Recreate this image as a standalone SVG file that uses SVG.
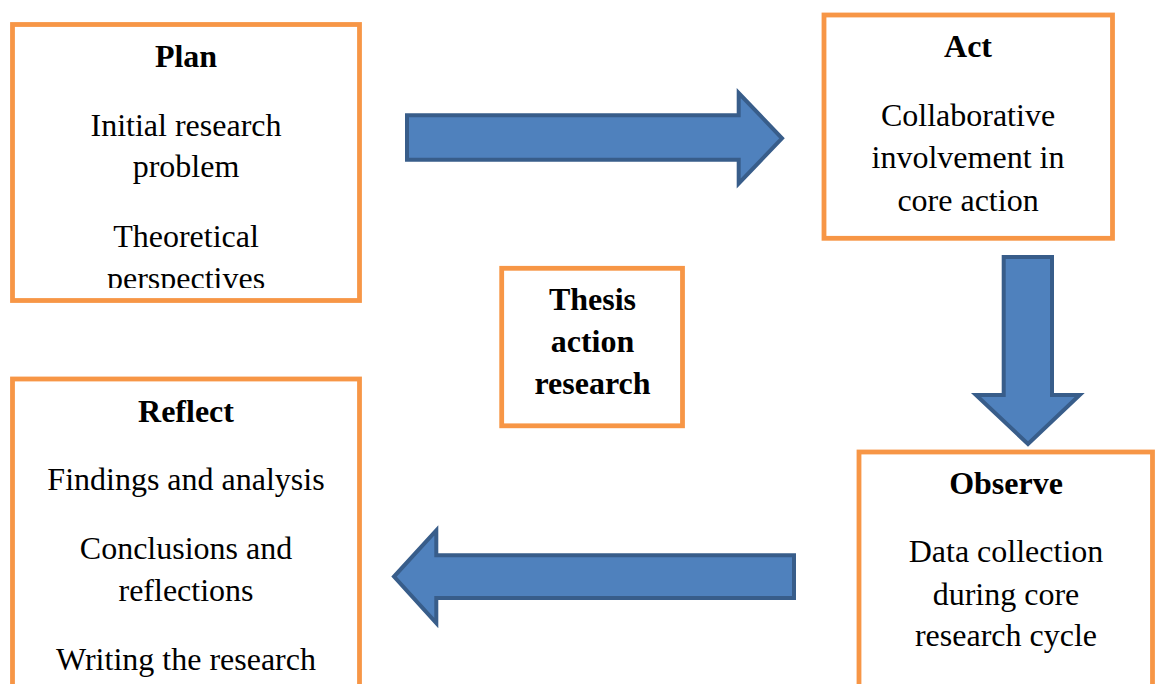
<svg xmlns="http://www.w3.org/2000/svg" width="1157" height="684" viewBox="0 0 1157 684">
<style>
.box{fill:#FFFFFF;stroke:#F79646;stroke-width:4.8}
.arrow{fill:#4F81BD;stroke:#385D8A;stroke-width:4;stroke-linejoin:miter}
text{font-family:"Liberation Serif","Times New Roman",serif;font-size:32px;fill:#000000;text-anchor:middle}
.t{font-weight:bold}
</style>
<defs>
<clipPath id="clipPlan"><rect x="15" y="27" width="342" height="261"/></clipPath>
</defs>
<rect width="1157" height="684" fill="#FFFFFF"/>
<g id="connectors">
<path id="arrow-plan-act" class="arrow" d="M407,115.3 L738.7,115.3 L738.7,93 L782,138.3 L738.7,183.5 L738.7,159.7 L407,159.7 Z"/>
<path id="arrow-act-observe" class="arrow" d="M1003.7,257 L1052,257 L1052,395 L1079.7,395 L1028,444 L976,395 L1003.7,395 Z"/>
<path id="arrow-observe-reflect" class="arrow" d="M794,555.3 L436.3,555.3 L436.3,530.3 L394,576.6 L436.3,623 L436.3,598 L794,598 Z"/>
</g>
<g id="plan">
<rect class="box" x="12.5" y="24.5" width="347" height="276"/>
<g clip-path="url(#clipPlan)">
<text class="t" x="186" y="67">Plan</text>
<text x="186" y="136">Initial research</text>
<text x="186" y="177">problem</text>
<text x="186" y="247">Theoretical</text>
<text x="186" y="289">perspectives</text>
</g>
</g>
<g id="act">
<rect class="box" x="824" y="15" width="288.5" height="223.3"/>
<text class="t" x="968" y="57">Act</text>
<text x="968" y="126">Collaborative</text>
<text x="968" y="168">involvement in</text>
<text x="968" y="211">core action</text>
</g>
<g id="thesis">
<rect class="box" x="501.7" y="268.3" width="180.8" height="157.5"/>
<text class="t" x="592.5" y="310">Thesis</text>
<text class="t" x="592.5" y="352">action</text>
<text class="t" x="592.5" y="393.5">research</text>
</g>
<g id="observe">
<rect class="box" x="859" y="452" width="293.5" height="260"/>
<text class="t" x="1006" y="493.5">Observe</text>
<text x="1006" y="562">Data collection</text>
<text x="1006" y="605">during core</text>
<text x="1006" y="645.5">research cycle</text>
</g>
<g id="reflect">
<rect class="box" x="12.5" y="379" width="347" height="330"/>
<text class="t" x="186" y="422">Reflect</text>
<text x="186" y="489.5">Findings and analysis</text>
<text x="186" y="559">Conclusions and</text>
<text x="186" y="600.5">reflections</text>
<text x="186" y="670">Writing the research</text>
</g>
</svg>
